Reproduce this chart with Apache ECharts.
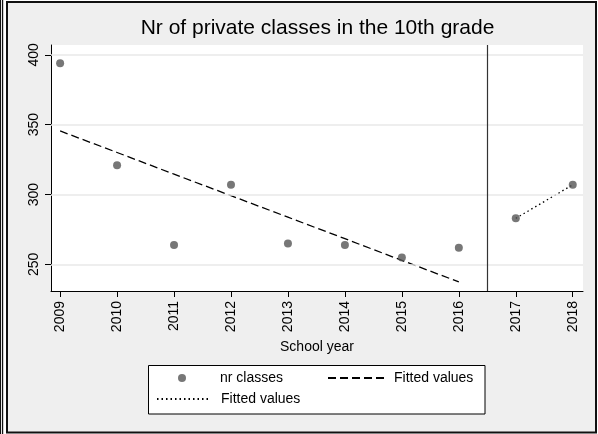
<!DOCTYPE html>
<html>
<head>
<meta charset="utf-8">
<style>html,body{margin:0;padding:0;background:#fff;}#c{width:598px;height:434px;}</style>
<script src="https://cdn.jsdelivr.net/npm/echarts@6/dist/echarts.min.js"></script>
</head>
<body>
<div id="c"></div>
<script>
var years = [2009, 2010, 2011, 2012, 2013, 2014, 2015, 2016, 2017, 2018];
var nrClasses = [394, 321, 264, 307, 265, 264, 255, 262, 283, 307];
var fitYearsPre = [2009, 2010, 2011, 2012, 2013, 2014, 2015, 2016];
var fittedPre = [345.5, 330.1, 314.6, 299.2, 283.8, 268.4, 252.9, 237.5];
var fitYearsPost = [2017, 2018];
var fittedPost = [283, 307];
var yTicks = [250, 300, 350, 400];
var cutoffYear = 2016.5;

var FONT = '"Liberation Sans", Arial, sans-serif';

function pairs(xs, ys) { return xs.map(function (x, i) { return [x, ys[i]]; }); }

var noSymbol = {color: 'transparent', borderColor: 'transparent', borderWidth: 0, opacity: 0};

var chart = echarts.init(document.getElementById('c'), null, {renderer: 'canvas'});
chart.setOption({
  animation: false,
  backgroundColor: '#ffffff',
  textStyle: {fontFamily: FONT},
  title: {
    text: 'Nr of private classes in the 10th grade',
    left: 317.5, top: 18, padding: 0, textAlign: 'center',
    textStyle: {fontSize: 21, fontWeight: 'normal', color: '#000', fontFamily: FONT}
  },
  graphic: [
    {type: 'rect', z: -100, shape: {x: 7, y: 2, width: 589, height: 430.5},
     style: {fill: '#efefef', stroke: '#111', lineWidth: 2}},
    {type: 'line', z: -100, shape: {x1: 0.5, y1: 0, x2: 0.5, y2: 434}, style: {stroke: '#111', lineWidth: 1.2}},
    {type: 'line', z: -100, shape: {x1: 2.6, y1: 0, x2: 2.6, y2: 434}, style: {stroke: '#111', lineWidth: 1.2}},
    {type: 'rect', z: 1, shape: {x: 148.5, y: 365.5, width: 336.5, height: 48.5},
     style: {fill: '#fff', stroke: '#000', lineWidth: 1}}
  ],
  grid: {left: 51, right: 15, top: 45, bottom: 143, show: true, backgroundColor: '#fff', borderWidth: 0, containLabel: false},
  xAxis: {
    type: 'value', min: 2008.84, max: 2018.18,
    name: 'School year', nameLocation: 'middle', nameGap: 49,
    nameTextStyle: {fontSize: 14, color: '#000', fontFamily: FONT},
    axisLine: {show: true, onZero: false, lineStyle: {color: '#000', width: 1}},
    axisTick: {show: true, length: 6, customValues: years, lineStyle: {color: '#000', width: 1}},
    axisLabel: {show: true, customValues: years, rotate: 90, margin: 10, fontSize: 14, color: '#000', fontFamily: FONT,
      formatter: function (v) { return String(v); }},
    splitLine: {show: false}
  },
  yAxis: {
    type: 'value', min: 231, max: 407,
    axisLine: {show: true, onZero: false, lineStyle: {color: '#000', width: 1}},
    axisTick: {show: true, length: 6, customValues: yTicks, lineStyle: {color: '#000', width: 1}},
    axisLabel: {show: true, customValues: yTicks, rotate: 90, margin: 10, fontSize: 14, color: '#000', fontFamily: FONT,
      formatter: function (v) { return String(v); }},
    splitLine: {show: false}
  },
  legend: [
    {data: ['nr classes'], left: 178, top: 371, padding: 0, itemWidth: 8, itemHeight: 8,
     textStyle: {fontSize: 14, color: '#000', fontFamily: FONT, padding: [0, 0, 0, 29]}, selectedMode: false},
    {data: ['Fitted values'], left: 327, top: 371, padding: 0, itemWidth: 56, itemHeight: 8,
     itemStyle: noSymbol,
     textStyle: {fontSize: 14, color: '#000', fontFamily: FONT, padding: [0, 0, 0, 5]}, selectedMode: false},
    {data: ['Fitted values '], left: 156, top: 392, padding: 0, itemWidth: 52, itemHeight: 8,
     itemStyle: noSymbol,
     textStyle: {fontSize: 14, color: '#000', fontFamily: FONT, padding: [0, 0, 0, 7]}, selectedMode: false}
  ],
  series: [
    {
      name: 'grid', type: 'line', data: [], z: 1, silent: true,
      markLine: {
        silent: true, symbol: ['none', 'none'], label: {show: false},
        lineStyle: {color: '#e9e9e9', width: 1.5, type: 'solid'},
        data: yTicks.map(function (v) { return {yAxis: v}; })
      }
    },
    {
      name: 'cutoff', type: 'line', data: [], z: 1, silent: true,
      markLine: {
        silent: true, symbol: ['none', 'none'], label: {show: false},
        lineStyle: {color: '#333', width: 1.2, type: 'solid'},
        data: [{xAxis: cutoffYear}]
      }
    },
    {
      name: 'Fitted values', type: 'line', z: 3, symbol: 'none', showSymbol: false,
      data: pairs(fitYearsPre, fittedPre),
      lineStyle: {color: '#000', width: 1.3, type: [8, 4]},
      itemStyle: {color: '#000'}
    },
    {
      name: 'Fitted values ', type: 'line', z: 3, symbol: 'none', showSymbol: false,
      data: pairs(fitYearsPost, fittedPost),
      lineStyle: {color: '#000', width: 1.3, type: [1.5, 3]},
      itemStyle: {color: '#000'}
    },
    {
      name: 'nr classes', type: 'scatter', z: 4, symbol: 'circle', symbolSize: 8,
      data: pairs(years, nrClasses),
      itemStyle: {color: '#555555'}
    }
  ]
});
</script>
</body>
</html>
